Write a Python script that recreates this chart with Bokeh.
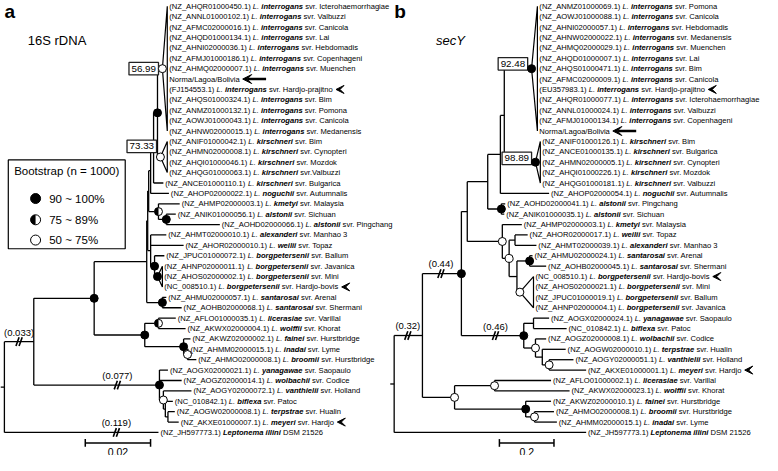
import math
from bokeh.plotting import figure
from bokeh.models import Range1d, Arrow, VeeHead, ColumnDataSource
from bokeh.core.properties import value
from bokeh.embed import file_html
from bokeh.resources import INLINE

# ======================= Panel a : 16S rDNA =======================
ACC_A = ["(NZ_AHQR01000450.1)", "(NZ_ANNL01000102.1)", "(NZ_AFMC02000016.1)", "(NZ_AHQD01000134.1)",
         "(NZ_AHNI02000036.1)", "(NZ_AFMJ01000186.1)", "(NZ_AHMQ02000007.1)", "Norma/Lagoa/Bolivia",
         "(FJ154553.1)", "(NZ_AHQS01000324.1)", "(NZ_ANMZ01000132.1)", "(NZ_AOWJ01000043.1)",
         "(NZ_AHNW02000015.1)", "(NZ_ANIF01000042.1)", "(NZ_AHMN02000008.1)", "(NZ_AHQI01000046.1)",
         "(NZ_AHQG01000063.1)", "(NZ_ANCE01000110.1)", "(NZ_AHOP02000022.1)", "(NZ_AHMP02000003.1)",
         "(NZ_ANIK01000056.1)", "(NZ_AOHD02000066.1)", "(NZ_AHMT02000010.1)", "(NZ_AHOR02000010.1)",
         "(NZ_JPUC01000072.1)", "(NZ_AHNP02000011.1)", "(NZ_AHOS02000002.1)", "(NC_008510.1)",
         "(NZ_AHMU02000057.1)", "(NZ_AOHB02000068.1)", "(NZ_AFLO01000035.1)", "(NZ_AKWX02000004.1)",
         "(NZ_AKWZ02000002.1)", "(NZ_AHMM02000015.1)", "(NZ_AHMO02000008.1)", "(NZ_AOGX02000021.1)",
         "(NZ_AOGZ02000014.1)", "(NZ_AOGY02000072.1)", "(NC_010842.1)", "(NZ_AOGW02000008.1)",
         "(NZ_AKXE01000007.1)", "(NZ_JH597773.1)"]
GENUS_A = ["L.", "L.", "L.", "L.", "L.", "L.", "L.", "", "L.", "L.", "L.", "L.", "L.", "L.",
           "L.", "L.", "L.", "L.", "L.", "L.", "L.", "L.", "L.", "L.", "L.", "L.", "L.", "L.",
           "L.", "L.", "L.", "L.", "L.", "L.", "L.", "L.", "L.", "L.", "L.", "L.", "L.", ""]
SPECIES_A = ["interrogans", "interrogans", "interrogans", "interrogans", "interrogans", "interrogans",
             "interrogans", "", "interrogans", "interrogans", "interrogans", "interrogans", "interrogans",
             "kirschneri", "kirschneri", "kirschneri", "kirschneri", "kirschneri", "noguchii", "kmetyi",
             "alstonii", "alstonii", "alexanderi", "weilii", "borgpetersenii", "borgpetersenii",
             "borgpetersenii", "borgpetersenii", "santarosai", "santarosai", "licerasiae", "wolffii",
             "fainei", "inadai", "broomii", "yanagawae", "wolbachii", "vanthielii", "biflexa",
             "terpstrae", "meyeri", "Leptonema illini"]
SERO_A = ["svr. Icterohaemorrhagiae", "svr. Valbuzzi", "svr. Canicola", "svr. Lai", "svr. Hebdomadis",
          "svr. Copenhageni", "svr. Muenchen", "", "svr. Hardjo-prajitno", "svr. Bim", "svr. Pomona",
          "svr. Canicola", "svr. Medanensis", "svr. Bim", "svr. Cynopteri", "svr. Mozdok", "svr.Valbuzzi",
          "svr. Bulgarica", "svr. Autumnalis", "svr. Malaysia", "svr. Sichuan", "svr. Pingchang",
          "svr. Manhao 3", "svr. Topaz", "svr. Ballum", "svr. Javanica", "svr. Mini", "svr. Hardjo-bovis",
          "svr. Arenal", "svr. Shermani", "svr. Varillal", "svr. Khorat", "svr. Hurstbridge", "svr. Lyme",
          "svr. Hurstbridge", "svr. Saopaulo", "svr. Codice", "svr. Holland", "svr. Patoc", "svr. Hualin",
          "svr. Hardjo", "DSM 21526"]
# tree: parent node of every leaf, drawn tip depth (substitutions/site, broken branches shortened)
LEAF_PARENT_A = [9, 9, 9, 9, 9, 9, 9, 9, 9, 9, 9, 9, 9, 10, 10, 10, 10, 7, 6, 11, 12, 12, 13, 13, 14,
                 15, 15, 15, 16, 16, 18, 18, 19, 20, 20, 21, 21, 22, 23, 24, 24, 0]
LEAF_TIP_A = [0.0499, 0.0499, 0.0499, 0.0499, 0.0499, 0.0499, 0.0499, 0.0499, 0.0499, 0.0499, 0.0499,
              0.0499, 0.0499, 0.0499, 0.0499, 0.0499, 0.0499, 0.0487, 0.0504, 0.0537, 0.0525, 0.0660,
              0.0496, 0.0549, 0.0490, 0.0484, 0.0484, 0.0484, 0.0496, 0.0543, 0.0525, 0.0555, 0.0570,
              0.0564, 0.0588, 0.0501, 0.0543, 0.0573, 0.0516, 0.0522, 0.0534, 0.0472]
NODE_PARENT_A = [-1, 0, 1, 2, 3, 4, 5, 6, 7, 8, 8, 5, 11, 4, 13, 14, 3, 2, 17, 17, 19, 1, 21, 22, 23]
NODE_DEPTH_A = [0.0, 0.0090, 0.0275, 0.0436, 0.0439, 0.0442, 0.0448, 0.0457, 0.0469, 0.0484, 0.0478,
                0.0472, 0.0496, 0.0448, 0.0460, 0.0469, 0.0484, 0.0430, 0.0472, 0.0549, 0.0561, 0.0475,
                0.0487, 0.0493, 0.0501]
# bootstrap class: 3 = 90~100%, 2 = 75~89%, 1 = 50~75%, 0 = none
NODE_SUPPORT_A = [0, 0, 3, 0, 0, 0, 0, 0, 3, 1, 1, 2, 3, 0, 3, 3, 3, 3, 2, 3, 1, 3, 1, 0, 0]
COLLAPSED_A = [9, 10, 15]
BOX_NODE_A = [9, 10]
BOX_TEXT_A = ["56.99", "73.33"]
BREAK_KIND_A = ["node", "node", "leaf"]
BREAK_ID_A = [1, 21, 41]
BREAK_AT_A = [0.0045, 0.0346, 0.0343]
BREAK_TEXT_A = ["(0.033)", "(0.077)", "(0.119)"]
MARK_LEAF_A = [7, 8, 27, 40]
MARK_KIND_A = ["arrow", "chevron", "chevron", "chevron"]
SCALE_A = 0.02
SCALE_TEXT_A = "0.02"

# ======================= Panel b : secY =======================
ACC_B = ["(NZ_ANMZ01000069.1)", "(NZ_AOWJ01000088.1)", "(NZ_AHNI02000057.1)", "(NZ_AHNW02000022.1)",
         "(NZ_AHMQ02000029.1)", "(NZ_AHQD01000007.1)", "(NZ_AHQS01000471.1)", "(NZ_AFMC02000009.1)",
         "(EU357983.1)", "(NZ_AHQR01000077.1)", "(NZ_ANNL01000024.1)", "(NZ_AFMJ01000134.1)",
         "Norma/Lagoa/Bolivia", "(NZ_ANIF01000126.1)", "(NZ_ANCE01000135.1)", "(NZ_AHMN02000005.1)",
         "(NZ_AHQI01000226.1)", "(NZ_AHQG01000181.1)", "(NZ_AHOP02000054.1)", "(NZ_AOHD02000041.1)",
         "(NZ_ANIK01000035.1)", "(NZ_AHMP02000003.1)", "(NZ_AHOR02000017.1)", "(NZ_AHMT02000039.1)",
         "(NZ_AHMU02000024.1)", "(NZ_AOHB02000045.1)", "(NC_008510.1)", "(NZ_AHOS02000021.1)",
         "(NZ_JPUC01000019.1)", "(NZ_AHNP02000004.1)", "(NZ_AOGX02000024.1)", "(NC_010842.1)",
         "(NZ_AOGZ02000008.1)", "(NZ_AOGW02000010.1)", "(NZ_AOGY02000051.1)", "(NZ_AKXE01000001.1)",
         "(NZ_AFLO01000002.1)", "(NZ_AKWX02000023.1)", "(NZ_AKWZ02000010.1)", "(NZ_AHMO02000008.1)",
         "(NZ_AHMM02000015.1)", "(NZ_JH597773.1)"]
GENUS_B = ["L.", "L.", "L.", "L.", "L.", "L.", "L.", "L.", "L.", "L.", "L.", "L.", "", "L.", "L.",
           "L.", "L.", "L.", "L.", "L.", "L.", "L.", "L.", "L.", "L.", "L.", "L.", "L.", "L.", "L.",
           "L.", "L.", "L.", "L.", "L.", "L.", "L.", "L.", "L.", "L.", "L.", ""]
SPECIES_B = ["interrogans", "interrogans", "interrogans", "interrogans", "interrogans", "interrogans",
             "interrogans", "interrogans", "interrogans", "interrogans", "interrogans", "interrogans", "",
             "kirschneri", "kirschneri", "kirschneri", "kirschneri", "kirschneri", "noguchii", "alstonii",
             "alstonii", "kmetyi", "weilii", "alexanderi", "santarosai", "santarosai", "borgpetersenii",
             "borgpetersenii", "borgpetersenii", "borgpetersenii", "yanagawae", "biflexa", "wolbachii",
             "terpstrae", "vanthielii", "meyeri", "licerasiae", "wolffii", "fainei", "broomii", "inadai",
             "Leptonema illini"]
SERO_B = ["svr. Pomona", "svr. Canicola", "svr. Hebdomadis", "svr. Medanensis", "svr. Muenchen", "svr. Lai",
          "svr. Bim", "svr. Canicola", "svr. Hardjo-prajitno", "svr. Icterohaemorrhagiae", "svr. Valbuzzi",
          "svr. Copenhageni", "", "svr. Bim", "svr. Bulgarica", "svr. Cynopteri", "svr. Mozdok",
          "svr. Valbuzzi", "svr. Autumnalis", "svr. Pingchang", "svr. Sichuan", "svr. Malaysia", "svr. Topaz",
          "svr. Manhao 3", "svr. Arenal", "svr. Shermani", "svr. Hardjo-bovis", "svr. Mini", "svr. Ballum",
          "svr. Javanica", "svr. Saopaulo", "svr. Patoc", "svr. Codice", "svr. Hualin", "svr. Holland",
          "svr. Hardjo", "svr. Varillal", "svr. Khorat", "svr. Hurstbridge", "svr. Hurstbridge", "svr. Lyme",
          "DSM 21526"]
LEAF_PARENT_B = [8, 8, 8, 8, 8, 8, 8, 8, 8, 8, 8, 8, 8, 9, 9, 9, 9, 9, 6, 10, 10, 11, 13, 13, 15, 15,
                 16, 16, 16, 16, 18, 18, 19, 20, 21, 21, 22, 22, 23, 24, 24, 0]
LEAF_TIP_B = [0.525, 0.525, 0.525, 0.525, 0.525, 0.525, 0.525, 0.525, 0.525, 0.525, 0.525, 0.525, 0.525,
              0.5357, 0.5357, 0.5357, 0.5357, 0.5357, 0.5679, 0.4071, 0.4036, 0.4679, 0.4893, 0.5214,
              0.5071, 0.5571, 0.5107, 0.5107, 0.5107, 0.5107, 0.5679, 0.6321, 0.5571, 0.6286, 0.6571,
              0.7036, 0.575, 0.6429, 0.575, 0.5857, 0.5964, 0.7036]
NODE_PARENT_B = [-1, 0, 1, 1, 2, 4, 5, 6, 7, 7, 5, 4, 11, 12, 12, 14, 14, 2, 17, 17, 19, 20, 3, 3, 23]
NODE_DEPTH_B = [0.0, 0.1036, 0.2464, 0.2214, 0.2679, 0.3429, 0.3893, 0.4036, 0.5036, 0.5179, 0.3929,
                0.3964, 0.4214, 0.4429, 0.45, 0.4964, 0.4607, 0.475, 0.5107, 0.5179, 0.5429, 0.5679,
                0.3679, 0.4821, 0.5143]
NODE_SUPPORT_B = [0, 0, 3, 1, 0, 0, 0, 0, 3, 3, 3, 1, 1, 0, 0, 3, 1, 3, 0, 1, 0, 1, 1, 3, 1]
COLLAPSED_B = [8, 9, 16]
BOX_NODE_B = [8, 9]
BOX_TEXT_B = ["92.48", "98.89"]
BREAK_KIND_B = ["node", "node", "node"]
BREAK_ID_B = [1, 2, 17]
BREAK_AT_B = [0.05, 0.1714, 0.3714]
BREAK_TEXT_B = ["(0.32)", "(0.44)", "(0.46)"]
MARK_LEAF_B = [8, 12, 26, 35]
MARK_KIND_B = ["chevron", "arrow", "chevron", "chevron"]
SCALE_B = 0.2
SCALE_TEXT_B = "0.2"

LEGEND_TITLE = "Bootstrap (n = 1000)"
LEGEND_LABELS = ["90 ~ 100%", "75 ~ 89%", "50 ~ 75%"]
LEGEND_CLASS = [3, 2, 1]

# ======================= layout / style =======================
W, H = 762, 455
XR, YR = 782.0, 471.0
SX = W / XR
FONT = value("Liberation Sans")
FS_LEAF = 7.6
LEAF_Y0, LEAF_DY = 6.0, 10.76
LABEL_GAP = 2.0

_reg_chars = " ().-_/~%=0123456789ABCDEFGHIJKLMNOPQRSTUVWXYZabcdefghijklmnopqrstuvwxyz"
_reg_w = [278, 333, 333, 278, 333, 556, 278, 584, 889, 584] + [556] * 10 + \
         [667, 667, 722, 722, 667, 611, 778, 722, 278, 500, 667, 556, 833, 722, 778, 667, 778, 722, 667,
          611, 722, 667, 944, 667, 667, 611] + \
         [556, 556, 500, 556, 556, 278, 556, 556, 222, 222, 500, 222, 833, 556, 556, 556, 556, 333, 500,
          278, 556, 500, 722, 500, 500, 500]
W_REG = dict(zip(_reg_chars, _reg_w))
_bold_chars = " .Labcdefghijklmnopqrstuvwxyz"
_bold_w = [278, 278, 611, 556, 611, 556, 611, 556, 333, 611, 611, 278, 278, 556, 278, 889, 611, 611, 611,
           611, 389, 556, 333, 611, 556, 778, 556, 556, 500]
W_BOLD = dict(zip(_bold_chars, _bold_w))


def tw_px(s, fs, bold=False):
    """rendered width in screen px (Arial metrics, verified linear)"""
    tab = W_BOLD if bold else W_REG
    return sum(tab.get(c, 600) for c in s) * fs / 1000.0


p = figure(width=W, height=H, x_range=Range1d(0, XR), y_range=Range1d(YR, 0),
           output_backend="svg", toolbar_location=None, x_axis_type=None, y_axis_type=None,
           min_border=0, min_border_left=0, min_border_right=0, min_border_top=0, min_border_bottom=0)
p.grid.visible = False
p.outline_line_color = None
p.background_fill_color = "white"
p.border_fill_color = "white"


def markers(xs, ys, classes, size):
    r = size / 2.0
    for cls in (1, 2, 3):
        mx = [x for x, c in zip(xs, classes) if c == cls]
        my = [y for y, c in zip(ys, classes) if c == cls]
        if not mx:
            continue
        fill = "black" if cls == 3 else "white"
        p.scatter(mx, my, size=size, marker="circle", fill_color=fill, line_color="black", line_width=1)
        if cls == 2:
            p.wedge(mx, my, radius=r, radius_units="screen", start_angle=math.pi / 2,
                    end_angle=3 * math.pi / 2, fill_color="black", line_color=None)


def draw_tree(acc, genus, species, sero, leaf_parent, leaf_tip, node_parent, node_depth, node_support,
              collapsed, box_node, box_text, box_dy, brk_kind, brk_id, brk_at, brk_text,
              mark_leaf, mark_kind, x0, k):
    def X(d):
        return x0 + d * k

    n_leaf, n_node = len(acc), len(node_parent)
    leaf_y = [LEAF_Y0 + i * LEAF_DY for i in range(n_leaf)]
    kids_leaf = [[] for _ in range(n_node)]
    for i, par in enumerate(leaf_parent):
        kids_leaf[par].append(i)
    kids_node = [[] for _ in range(n_node)]
    for j, par in enumerate(node_parent):
        if par >= 0:
            kids_node[par].append(j)
    node_y = [None] * n_node

    def ny(j):
        if node_y[j] is None:
            ys = [leaf_y[i] for i in kids_leaf[j]] + [ny(c) for c in kids_node[j]]
            node_y[j] = (min(ys) + max(ys)) / 2.0
        return node_y[j]

    for j in range(n_node):
        ny(j)

    sx0, sy0, sx1, sy1 = [], [], [], []

    def seg(a, b, c, d):
        sx0.append(a); sy0.append(b); sx1.append(c); sy1.append(d)

    for i in range(n_leaf):
        par = leaf_parent[i]
        if par in collapsed:
            continue
        seg(X(node_depth[par]), leaf_y[i], X(leaf_tip[i]), leaf_y[i])
    for j in range(n_node):
        par = node_parent[j]
        if par >= 0:
            seg(X(node_depth[par]), node_y[j], X(node_depth[j]), node_y[j])
        if j in collapsed:
            continue
        ys = [leaf_y[i] for i in kids_leaf[j]] + [node_y[c] for c in kids_node[j]]
        seg(X(node_depth[j]), min(ys), X(node_depth[j]), max(ys))
    root = node_parent.index(-1)
    seg(X(node_depth[root]) - 4, node_y[root], X(node_depth[root]), node_y[root])
    p.segment(sx0, sy0, sx1, sy1, line_color="black", line_width=1.3)

    for j in collapsed:
        ls = kids_leaf[j]
        tip = max(leaf_tip[i] for i in ls)
        p.patch([X(node_depth[j]), X(tip), X(tip)], [node_y[j], leaf_y[ls[0]], leaf_y[ls[-1]]],
                fill_color="white", line_color="black", line_width=1.2)

    # broken branches
    bx0, by0, bx1, by1, tx, ty, tt = [], [], [], [], [], [], []
    for kind, idx, at, txt in zip(brk_kind, brk_id, brk_at, brk_text):
        y = leaf_y[idx] if kind == "leaf" else node_y[idx]
        xb = X(at)
        for dx in (-1.6, 1.6):
            bx0.append(xb + dx - 1.6); by0.append(y + 4.5)
            bx1.append(xb + dx + 1.6); by1.append(y - 4.5)
        tx.append(xb); ty.append(y - 10); tt.append(txt)
    p.segment(bx0, by0, bx1, by1, line_color="black", line_width=1.6)
    p.text(tx, ty, text=tt, text_font=FONT, text_font_size="9.5px", text_align="center",
           text_baseline="middle", text_color="black")

    # support boxes
    fs_box = 9.8
    for j, txt, dy in zip(box_node, box_text, box_dy):
        right = X(node_depth[j]) - 4
        w = (tw_px(txt, fs_box) + 5) / SX
        yc = node_y[j] + dy
        p.quad(left=right - w, right=right, top=yc - 6.5, bottom=yc + 6.5, fill_color="white",
               line_color="#222222", line_width=1.3)
        p.text([right - w / 2], [yc], text=[txt], text_font=FONT, text_font_size=f"{fs_box}px",
               text_align="center", text_baseline="middle", text_color="black")

    # node markers
    idx = [j for j in range(n_node) if node_support[j] > 0]
    markers([X(node_depth[j]) for j in idx], [node_y[j] for j in idx], [node_support[j] for j in idx], 8)

    # leaf labels (normal accession / italic genus / bold italic species / normal serovar)
    pieces = {"normal": ([], [], []), "italic": ([], [], []), "bold italic": ([], [], [])}
    ends = []
    space = tw_px(" ", FS_LEAF) / SX
    for i in range(n_leaf):
        x = X(leaf_tip[i]) + LABEL_GAP
        y = leaf_y[i]
        parts = [(acc[i], "normal", False), (genus[i], "italic", False),
                 (species[i], "bold italic", True), (sero[i], "normal", False)]
        parts = [pt for pt in parts if pt[0]]
        end = x
        for s, style, bold in parts:
            pieces[style][0].append(x); pieces[style][1].append(y); pieces[style][2].append(s)
            end = x + tw_px(s, FS_LEAF, bold) / SX
            x = end + space
        ends.append(end)
    for style, (xs, ys, ts) in pieces.items():
        src = ColumnDataSource(dict(x=xs, y=ys, t=ts))
        p.text(x="x", y="y", text="t", source=src, text_font=FONT, text_font_size=f"{FS_LEAF}px",
               text_font_style=style, text_align="left", text_baseline="middle", text_color="black")

    for i, kind in zip(mark_leaf, mark_kind):
        e, y = ends[i], leaf_y[i]
        if kind == "arrow":
            p.add_layout(Arrow(end=VeeHead(size=9, fill_color="black", line_color="black", line_width=1),
                               x_start=e + 27, y_start=y, x_end=e + 3, y_end=y,
                               line_color="black", line_width=2.6))
        else:
            p.add_layout(Arrow(end=VeeHead(size=8, fill_color="black", line_color="black", line_width=1),
                               x_start=e + 4, y_start=y, x_end=e + 3, y_end=y,
                               line_color="black", line_alpha=0.0, line_width=1))


def scale_bar(x, y, length, txt):
    p.segment([x, x, x + length], [y, y - 4, y - 4], [x + length, x, x + length], [y, y + 4, y + 4],
              line_color="black", line_width=1.5)
    p.text([x + length / 2], [y + 9.5], text=[txt], text_font=FONT, text_font_size="10.5px",
           text_align="center", text_baseline="middle", text_color="black")


KA, KB = 3350.0, 280.0
draw_tree(ACC_A, GENUS_A, SPECIES_A, SERO_A, LEAF_PARENT_A, LEAF_TIP_A, NODE_PARENT_A, NODE_DEPTH_A,
          NODE_SUPPORT_A, COLLAPSED_A, BOX_NODE_A, BOX_TEXT_A, [0, -11], BREAK_KIND_A, BREAK_ID_A,
          BREAK_AT_A, BREAK_TEXT_A, MARK_LEAF_A, MARK_KIND_A, 4.0, KA)
draw_tree(ACC_B, GENUS_B, SPECIES_B, SERO_B, LEAF_PARENT_B, LEAF_TIP_B, NODE_PARENT_B, NODE_DEPTH_B,
          NODE_SUPPORT_B, COLLAPSED_B, BOX_NODE_B, BOX_TEXT_B, [-5, -4], BREAK_KIND_B, BREAK_ID_B,
          BREAK_AT_B, BREAK_TEXT_B, MARK_LEAF_B, MARK_KIND_B, 404.0, KB)
scale_bar(87, 458, SCALE_A * KA, SCALE_TEXT_A)
scale_bar(512, 458, SCALE_B * KB, SCALE_TEXT_B)

# panel letters and titles
p.text([4, 404], [11, 11], text=["a", "b"], text_font=FONT, text_font_size="19px", text_font_style="bold",
       text_align="left", text_baseline="middle", text_color="black")
p.text([28], [41], text=["16S rDNA"], text_font=FONT, text_font_size="13px", text_align="left",
       text_baseline="middle", text_color="black")
p.text([447], [41], text=["secY"], text_font=FONT, text_font_size="13px", text_font_style="italic",
       text_align="left", text_baseline="middle", text_color="black")

# bootstrap legend
p.quad(left=8, right=128, top=165, bottom=257, fill_color="white", line_color="black", line_width=1.2)
p.text([14], [177], text=[LEGEND_TITLE], text_font=FONT, text_font_size="11.5px", text_align="left",
       text_baseline="middle", text_color="black")
leg_y = [205, 227, 248]
markers([36, 36, 36], leg_y, LEGEND_CLASS, 10)
p.text([50, 50, 50], leg_y, text=LEGEND_LABELS, text_font=FONT, text_font_size="11.5px", text_align="left",
       text_baseline="middle", text_color="black")

open("out.html", "w").write(file_html(p, INLINE))
